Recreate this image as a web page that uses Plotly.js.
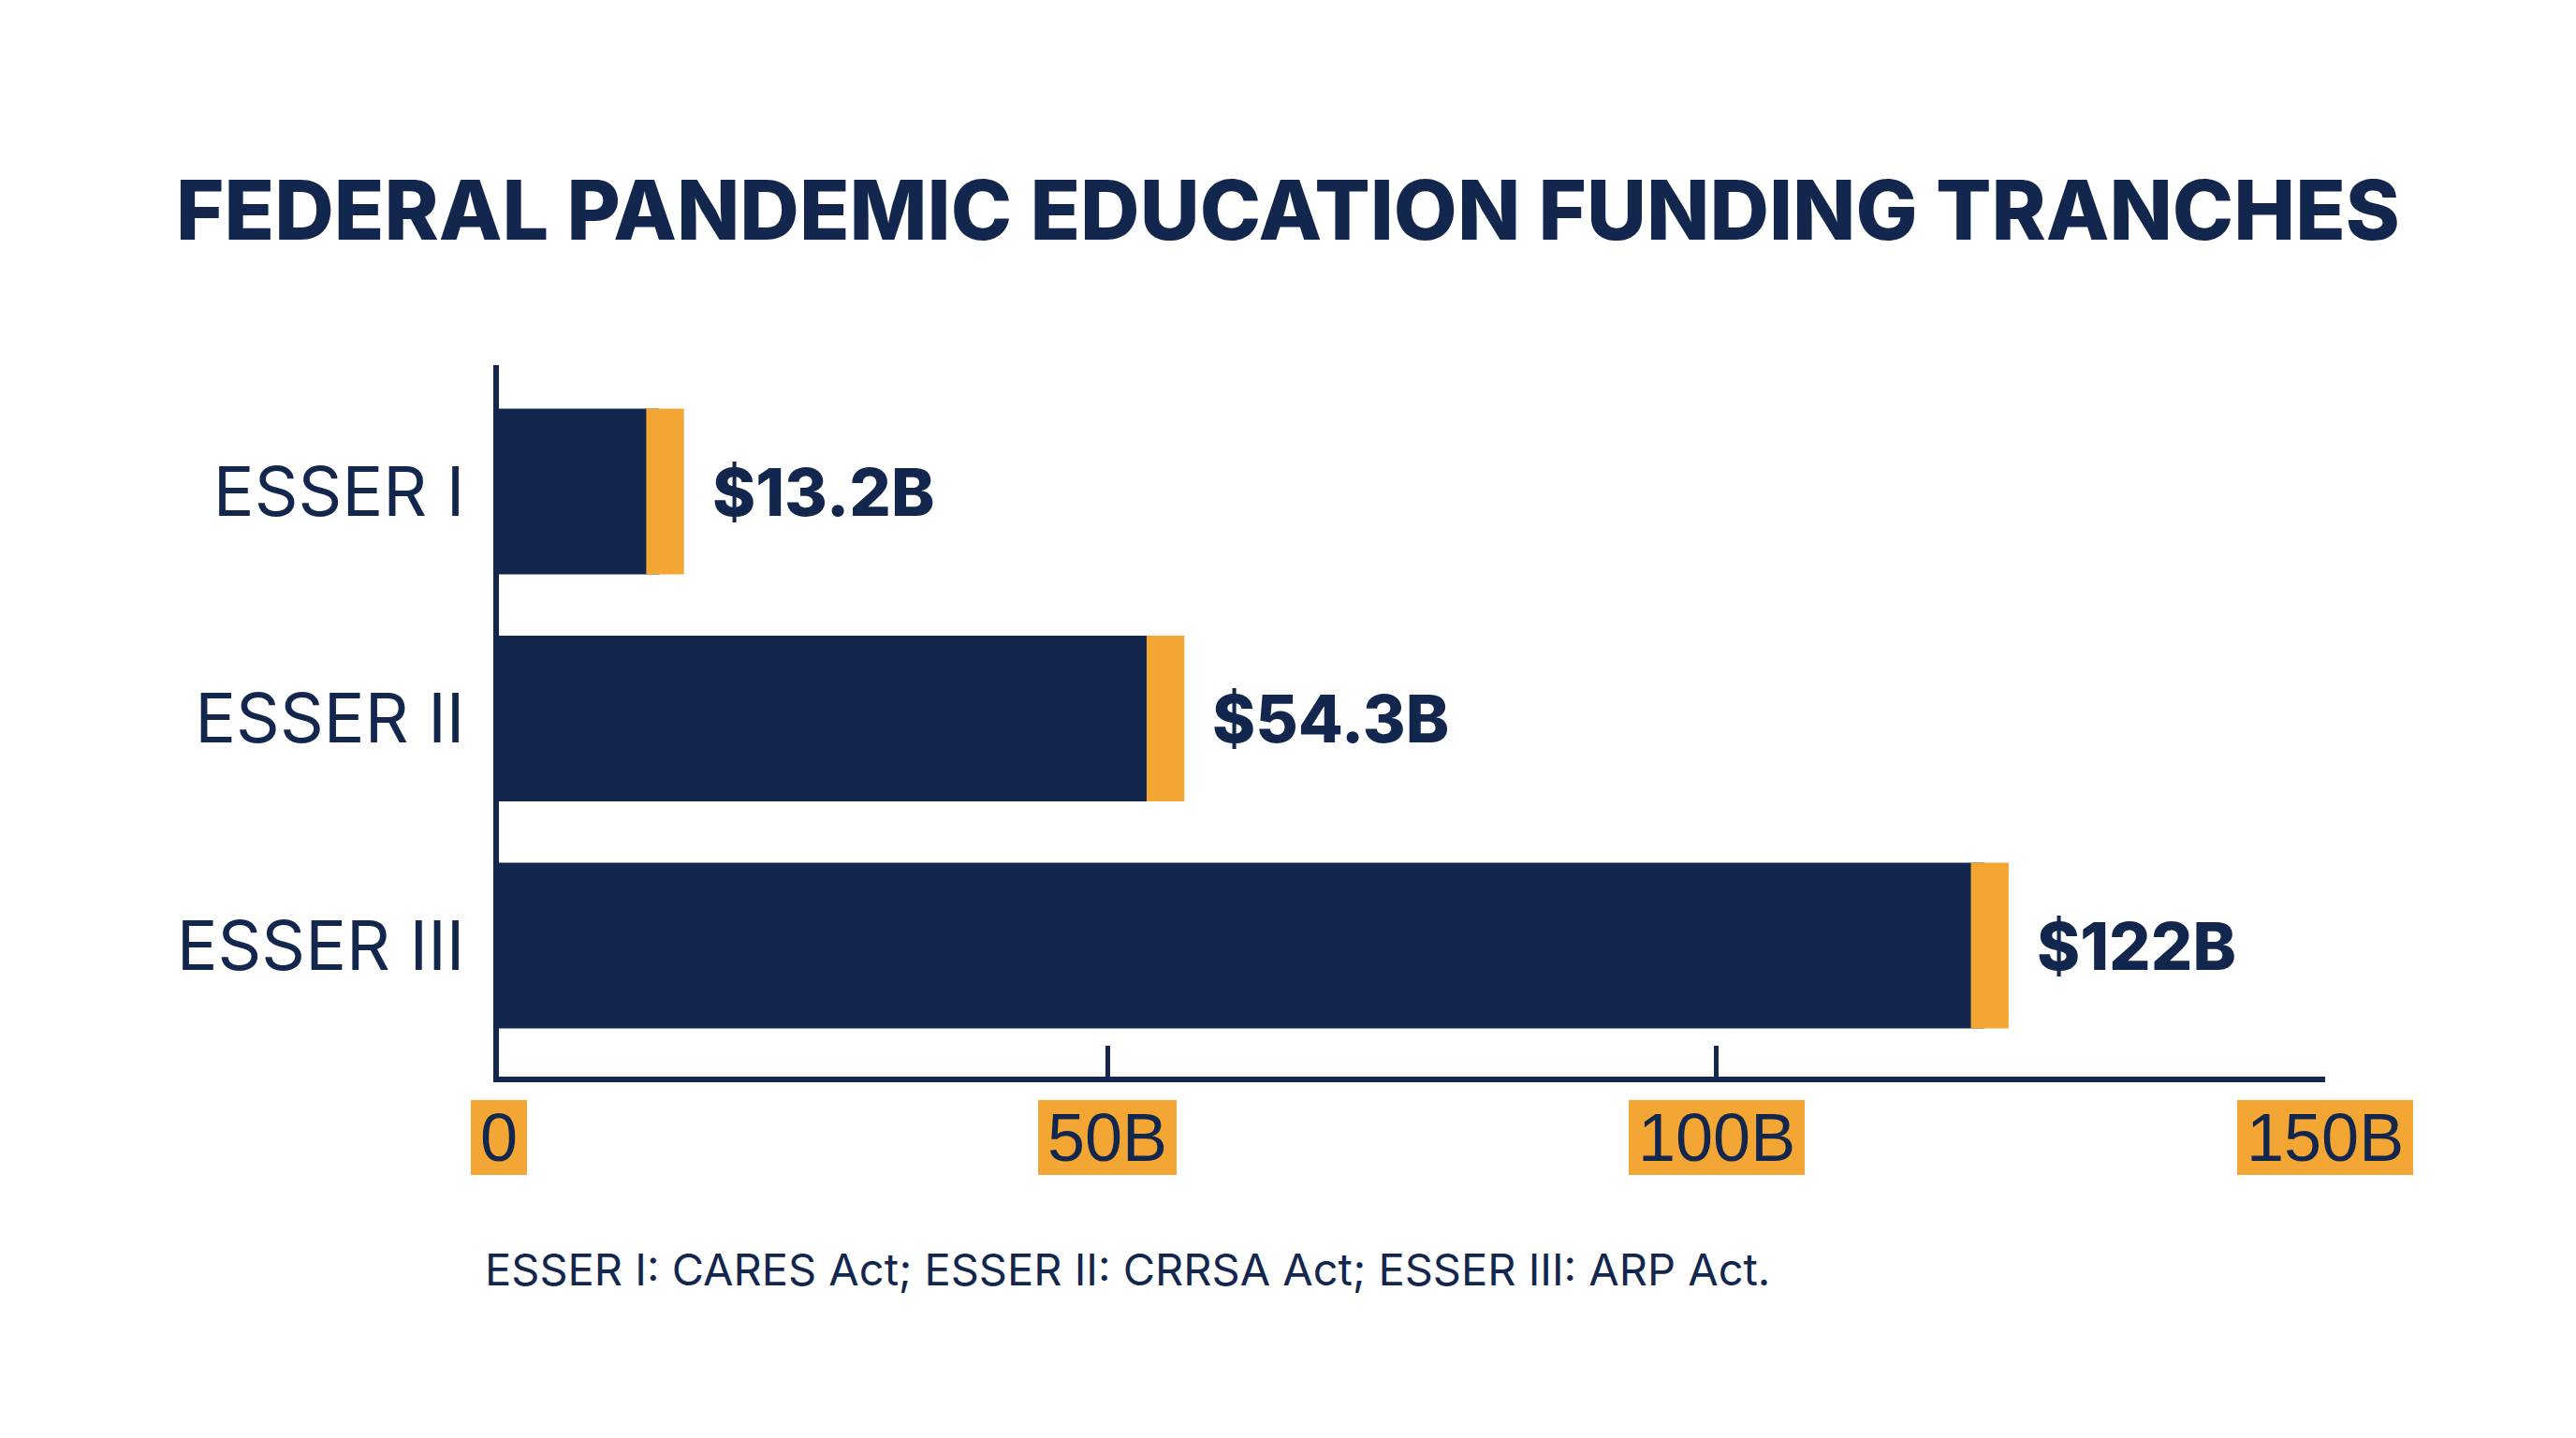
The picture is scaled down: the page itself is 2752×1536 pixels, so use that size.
<!DOCTYPE html>
<html>
<head>
<meta charset="utf-8">
<script src="https://cdn.plot.ly/plotly-3.0.1.min.js"></script>
<style>
  html, body { margin: 0; padding: 0; background: #ffffff; }
  #chart { width: 2752px; height: 1536px; }
</style>
</head>
<body>
<div id="chart"></div>
<script>
// ---- data ----
const categories = ['ESSER I', 'ESSER II', 'ESSER III'];
const fundingBillions = [13.2, 54.3, 122];
const valueLabels = ['$13.2B', '$54.3B', '$122B'];
const tickValues = [0, 50, 100, 150];
const tickLabels = ['0', '50B', '100B', '150B'];
const titleText = 'FEDERAL PANDEMIC EDUCATION FUNDING TRANCHES';
const footnoteText = 'ESSER I: CARES Act; ESSER II: CRRSA Act; ESSER III: ARP Act.';

// ---- style ----
const NAVY = '#13264D';
const ORANGE = '#F3A633';
const capOffset = 1.1;   // cap starts slightly before the value end (data units)
const capWidth = 3.1;    // cap thickness (data units)

const mainBars = {
  type: 'bar',
  orientation: 'h',
  y: categories,
  x: fundingBillions,
  width: 0.73,
  marker: { color: NAVY, line: { width: 0 } },
  hoverinfo: 'skip'
};

const capBars = {
  type: 'bar',
  orientation: 'h',
  y: categories,
  x: fundingBillions.map(() => capWidth),
  base: fundingBillions.map(v => v - capOffset),
  width: 0.73,
  marker: { color: ORANGE, line: { width: 0 } },
  hoverinfo: 'skip'
};

const annotations = [];
categories.forEach((c, i) => {
  annotations.push({
    x: fundingBillions[i], y: c, xref: 'x', yref: 'y',
    text: valueLabels[i], showarrow: false,
    xanchor: 'left', yanchor: 'middle', xshift: 54,
    font: { family: 'Inter, Lato, sans-serif', size: 70, color: NAVY, weight: 800 }
  });
});
tickValues.forEach((t, i) => {
  annotations.push({
    x: t, y: 0, xref: 'x', yref: 'paper',
    text: tickLabels[i], showarrow: false,
    xanchor: 'center', yanchor: 'top', yshift: -25,
    bgcolor: ORANGE, borderpad: 10, borderwidth: 0, height: 60,
    font: { family: 'Liberation Sans, Arial, sans-serif', size: 72, color: NAVY }
  });
});
annotations.push({
  x: 0, y: 0, xref: 'paper', yref: 'paper',
  text: footnoteText, showarrow: false,
  xanchor: 'left', yanchor: 'middle', xshift: -17, yshift: -205,
  font: { family: 'Inter, Lato, sans-serif', size: 47, color: NAVY }
});

const layout = {
  width: 2752, height: 1536,
  paper_bgcolor: '#ffffff', plot_bgcolor: '#ffffff',
  margin: { l: 533, r: 268, t: 390, b: 386, pad: 0 },
  showlegend: false,
  barmode: 'overlay',
  title: {
    text: titleText,
    xref: 'container', x: 0.5, xanchor: 'center',
    yref: 'container', y: 1 - 225 / 1536, yanchor: 'middle',
    font: { family: 'Inter, Lato, sans-serif', size: 88, color: NAVY, weight: 800 }
  },
  xaxis: {
    range: [0, 150],
    tickvals: tickValues,
    showticklabels: false,
    ticks: 'inside', ticklen: 33, tickwidth: 5, tickcolor: NAVY,
    showline: true, linecolor: NAVY, linewidth: 6,
    showgrid: false, zeroline: false, fixedrange: true
  },
  yaxis: {
    type: 'category',
    categoryorder: 'array', categoryarray: categories,
    range: [2.577, -0.557],
    showline: true, linecolor: NAVY, linewidth: 6,
    ticks: '', ticklabelstandoff: 16,
    tickfont: { family: 'Inter, Lato, sans-serif', size: 73, color: NAVY },
    showgrid: false, zeroline: false, fixedrange: true
  },
  annotations: annotations
};

Plotly.newPlot('chart', [mainBars, capBars], layout, { displayModeBar: false, staticPlot: true });
</script>
</body>
</html>
